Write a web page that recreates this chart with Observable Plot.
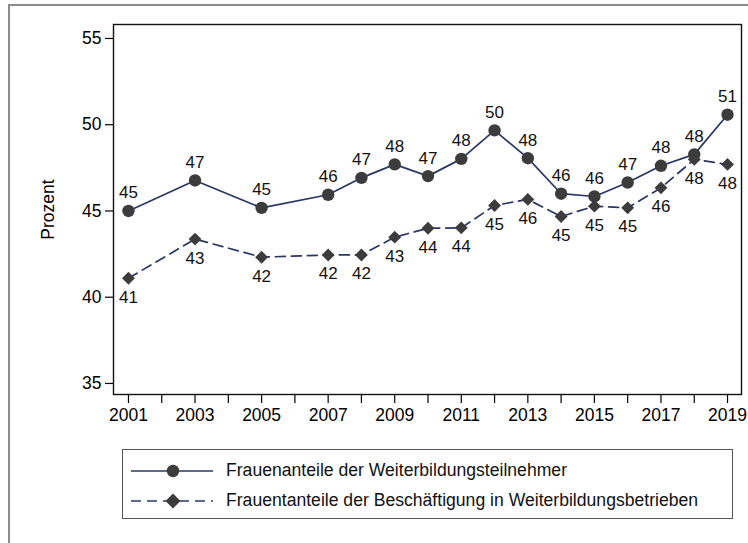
<!DOCTYPE html>
<html>
<head>
<meta charset="utf-8">
<script src="https://cdn.jsdelivr.net/npm/d3@7"></script>
<script src="https://cdn.jsdelivr.net/npm/@observablehq/plot@0.6"></script>
<style>
  body { margin: 0; background: #fff; font-family: "Liberation Sans", Arial, Helvetica, sans-serif; }
  #wrap { position: relative; width: 748px; height: 543px; overflow: hidden; background: #fff; }
  #outer { position: absolute; left: 8px; top: 4px; width: 800px; height: 700px; border: 2px solid #8c8c8c; box-sizing: border-box; }
  #chart { position: absolute; left: 0; top: 0; }
  #legend { position: absolute; left: 122px; top: 449px; width: 611px; height: 70px; border: 1.6px solid #555; box-sizing: border-box; background: #fff; }
  .item { position: absolute; left: 0; height: 24px; width: 100%; }
  .item svg { position: absolute; left: 8px; top: 0; }
  .item span { position: absolute; left: 103px; top: 1px; font-size: 17.6px; color: #111; white-space: nowrap; }
</style>
</head>
<body>
<div id="wrap">
  <div id="outer"></div>
  <div id="chart"></div>
  <div id="legend"></div>
</div>
<script>
// ---- data ----
const years = [2001, 2003, 2005, 2007, 2008, 2009, 2010, 2011, 2012, 2013, 2014, 2015, 2016, 2017, 2018, 2019];
const teilnehmer = [45.0, 46.77, 45.18, 45.94, 46.92, 47.70, 47.02, 48.02, 49.67, 48.06, 46.0, 45.84, 46.65, 47.62, 48.28, 50.58];
const beschaeftigung = [41.1, 43.37, 42.32, 42.45, 42.45, 43.48, 44.0, 44.02, 45.32, 45.67, 44.68, 45.28, 45.18, 46.34, 47.99, 47.70];
const seriesNames = ["Frauenanteile der Weiterbildungsteilnehmer", "Frauentanteile der Beschäftigung in Weiterbildungsbetrieben"];
const yTicks = [35, 40, 45, 50, 55];
const xTickYears = [2001, 2002, 2003, 2004, 2005, 2006, 2007, 2008, 2009, 2010, 2011, 2012, 2013, 2014, 2015, 2016, 2017, 2018, 2019];
const xTickLabels = [2001, 2003, 2005, 2007, 2009, 2011, 2013, 2015, 2017, 2019];
const yLabel = "Prozent";

const lineColor = "#2b3762";
const markerColor = "#3c3c3c";

const rows1 = years.map((y, i) => ({year: y, value: teilnehmer[i]}));
const rows2 = years.map((y, i) => ({year: y, value: beschaeftigung[i]}));

const chart = Plot.plot({
  width: 748,
  height: 543,
  marginLeft: 113,
  marginRight: 7,
  marginTop: 24,
  marginBottom: 149,
  style: { fontFamily: "'Liberation Sans', Arial, Helvetica, sans-serif", fontSize: "17.5px", color: "#000", background: "transparent" },
  x: { domain: [2000.55, 2019.42] },
  y: { domain: [34.36, 55.81] },
  marks: [
    Plot.axisY({ ticks: yTicks, tickSize: 8, tickPadding: 4, label: null, fontSize: 17.5, strokeWidth: 1.2 }),
    Plot.axisX({ ticks: xTickYears, tickSize: 9, tickPadding: 5, label: null, fontSize: 17.5, strokeWidth: 1.2,
      tickFormat: d => xTickLabels.includes(d) ? String(d) : "" }),
    Plot.frame({ stroke: "#111", strokeWidth: 1.4 }),
    Plot.text([yLabel], { frameAnchor: "left", dx: -65, rotate: -90, textAnchor: "middle", fontSize: 17.5 }),
    Plot.line(rows1, { x: "year", y: "value", stroke: lineColor, strokeWidth: 1.7 }),
    Plot.line(rows2, { x: "year", y: "value", stroke: lineColor, strokeWidth: 1.7, strokeDasharray: "10,6" }),
    Plot.dot(rows1, { x: "year", y: "value", symbol: "circle", r: 6.2, fill: markerColor, stroke: "none" }),
    Plot.dot(rows2, { x: "year", y: "value", symbol: "diamond2", r: 5.8, fill: markerColor, stroke: "none" }),
    Plot.text(rows1, { x: "year", y: "value", text: d => String(Math.round(d.value)), dy: -18, fontSize: 17, fill: "#111" }),
    Plot.text(rows2, { x: "year", y: "value", text: d => String(Math.round(d.value)), dy: 19, fontSize: 17, fill: "#111" })
  ]
});
document.getElementById("chart").appendChild(chart);

// ---- legend ----
const legend = document.getElementById("legend");
const tops = [9, 39];
seriesNames.forEach((name, i) => {
  const item = document.createElement("div");
  item.className = "item";
  item.style.top = tops[i] + "px";
  const dash = i === 1 ? ' stroke-dasharray="10,6"' : "";
  const marker = i === 0
    ? `<circle cx="42" cy="12" r="6.2" fill="${markerColor}"/>`
    : `<path d="M42,4.5 L49.5,12 L42,19.5 L34.5,12 Z" fill="${markerColor}"/>`;
  item.innerHTML = `<svg width="84" height="24"><line x1="0" y1="12" x2="82" y2="12" stroke="${lineColor}" stroke-width="1.7"${dash}/>${marker}</svg><span>${name}</span>`;
  legend.appendChild(item);
});
</script>
</body>
</html>
